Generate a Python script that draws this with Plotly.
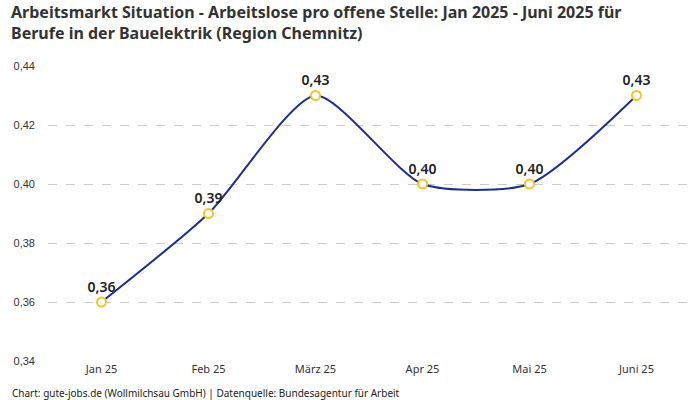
import plotly.graph_objects as go

months = ["Jan 25", "Feb 25", "März 25", "Apr 25", "Mai 25", "Juni 25"]
values = [0.36, 0.39, 0.43, 0.40, 0.40, 0.43]
labels = ["0,36", "0,39", "0,43", "0,40", "0,40", "0,43"]
y_ticks = [0.34, 0.36, 0.38, 0.40, 0.42, 0.44]
y_ticktext = ["0,34", "0,36", "0,38", "0,40", "0,42", "0,44"]

title_text = ("Arbeitsmarkt Situation - Arbeitslose pro offene Stelle: Jan 2025 - Juni 2025 für<br>"
              "Berufe in der Bauelektrik (Region Chemnitz)")
footer = "Chart: gute-jobs.de (Wollmilchsau GmbH) | Datenquelle: Bundesagentur für Arbeit"

fig = go.Figure()
fig.add_trace(go.Scatter(
    x=months, y=values, mode="lines+markers+text",
    text=labels, textposition="top center",
    textfont=dict(family="Noto Sans", size=14, color="#222222", weight=600),
    line=dict(color="#1a2f8f", width=2, shape="spline", smoothing=0.65),
    marker=dict(size=9, color="white", line=dict(color="#f7c325", width=2)),
    cliponaxis=False, hoverinfo="skip",
))

title_font = dict(family="Noto Sans", size=16, color="#333333", weight="bold")
fig.update_layout(
    width=700, height=400,
    margin=dict(l=48, r=10, t=66, b=39),
    paper_bgcolor="white", plot_bgcolor="white",
    showlegend=False,
    xaxis=dict(type="category", range=[-0.5, 5.5], showgrid=False, zeroline=False,
               showline=False, ticks="",
               tickfont=dict(family="Noto Sans", size=11, color="#333333")),
    yaxis=dict(range=[0.34, 0.44], tickvals=y_ticks, ticktext=y_ticktext,
               showgrid=True, gridcolor="#cccccc", griddash="dash", gridwidth=1,
               zeroline=False, showline=False, ticks="", ticklabelstandoff=12,
               tickfont=dict(family="Liberation Sans", size=11, color="#333333")),
    annotations=[
        dict(text=title_text, xref="paper", yref="paper", x=-0.059, y=1.149,
             xanchor="left", yanchor="middle", align="left", showarrow=False,
             borderpad=0, font=title_font),
        dict(text=footer, xref="paper", yref="paper", x=-0.059, y=-0.108,
             xanchor="left", yanchor="middle", showarrow=False,
             font=dict(family="Noto Sans", size=10, color="#222222")),
    ],
)

fig.write_html("out.html", config={"displayModeBar": False},
               post_script="document.body.style.margin='0';document.body.style.padding='0';")
